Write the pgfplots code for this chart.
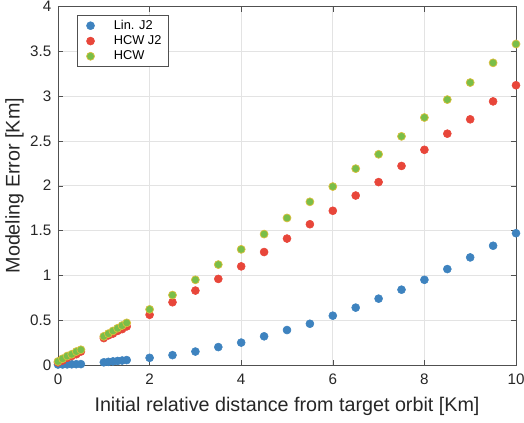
\documentclass[border=0pt]{standalone}
\usepackage{fontspec}
\setmainfont{Liberation Sans}
\usepackage{pgfplots}
\pgfplotsset{compat=1.18}
\definecolor{cblue}{RGB}{62,131,191}
\definecolor{cred}{RGB}{232,70,58}
\definecolor{cgreen}{RGB}{122,190,72}
\definecolor{cedge}{RGB}{220,190,60}
\definecolor{axgray}{RGB}{80,80,80}

\pgfplotstableread{
x    lin    hcwj2  hcw
0.0  0.005  0.03   0.04
0.1  0.006  0.05   0.07
0.2  0.007  0.08   0.10
0.3  0.008  0.10   0.12
0.4  0.009  0.12   0.15
0.5  0.010  0.15   0.17
1.0  0.030  0.30   0.32
1.1  0.035  0.33   0.35
1.2  0.040  0.35   0.38
1.3  0.045  0.38   0.41
1.4  0.050  0.40   0.44
1.5  0.055  0.43   0.47
2.0  0.08   0.56   0.62
2.5  0.11   0.70   0.78
3.0  0.15   0.83   0.95
3.5  0.20   0.96   1.12
4.0  0.25   1.10   1.29
4.5  0.32   1.26   1.46
5.0  0.39   1.41   1.64
5.5  0.46   1.57   1.82
6.0  0.55   1.72   1.99
6.5  0.64   1.89   2.19
7.0  0.74   2.04   2.35
7.5  0.84   2.22   2.55
8.0  0.95   2.40   2.76
8.5  1.07   2.58   2.96
9.0  1.20   2.74   3.15
9.5  1.33   2.94   3.37
10.0 1.47   3.12   3.58
}\errdata

\begin{document}
\begin{tikzpicture}
\begin{axis}[
  scale only axis,
  width=343.5pt, height=269pt,
  xmin=0, xmax=10, ymin=0, ymax=4,
  xtick={0,2,...,10},
  ytick={0,0.5,...,4},
  yticklabel style={/pgf/number format/fixed, xshift=-1.5pt},
  xticklabel style={yshift=-3pt},
  xlabel={Initial relative distance from target orbit [Km]},
  ylabel={Modeling Error [Km]},
  label style={font=\fontsize{14.8}{16}\selectfont, color=black!85},
  ylabel style={yshift=-2pt},
  xlabel style={yshift=-3pt},
  tick label style={font=\fontsize{11.4}{13}\selectfont, color=black!85},
  /pgf/number format/assume math mode=true,
  xmajorgrids, ymajorgrids,
  grid style={gray!22, line width=0.5pt},
  axis line style={axgray},
  tick style={axgray},
  tick align=inside,
  major tick length=4pt,
  clip=false,
  legend cell align=left,
  legend style={font=\fontsize{9.6}{11}\selectfont, draw=axgray, inner xsep=3pt, inner ysep=2pt,
    at={(14.25pt,262.5pt)}, anchor=north west, row sep=0pt,
    nodes={inner ysep=1.6pt}},
  legend image code/.code={\path (0pt,0pt) (22pt,0pt); \draw[#1] plot coordinates {(6.75pt,0pt)};},
  every axis plot/.append style={only marks, mark=*, mark size=3pt},
]
\addplot[mark options={fill=cblue, draw=cblue}] table[x=x, y=lin] {\errdata};
\addlegendentry{Lin. J2}
\addplot[mark options={fill=cred, draw=cred}] table[x=x, y=hcwj2] {\errdata};
\addlegendentry{HCW J2}
\addplot[mark options={fill=cgreen, draw=cedge, line width=0.5pt}] table[x=x, y=hcw] {\errdata};
\addlegendentry{HCW}
\end{axis}
\pgfresetboundingbox
\useasboundingbox (current axis.south west) ++(-43.5pt,-42.75pt) rectangle ++(393pt,316.5pt);
\end{tikzpicture}
\end{document}
